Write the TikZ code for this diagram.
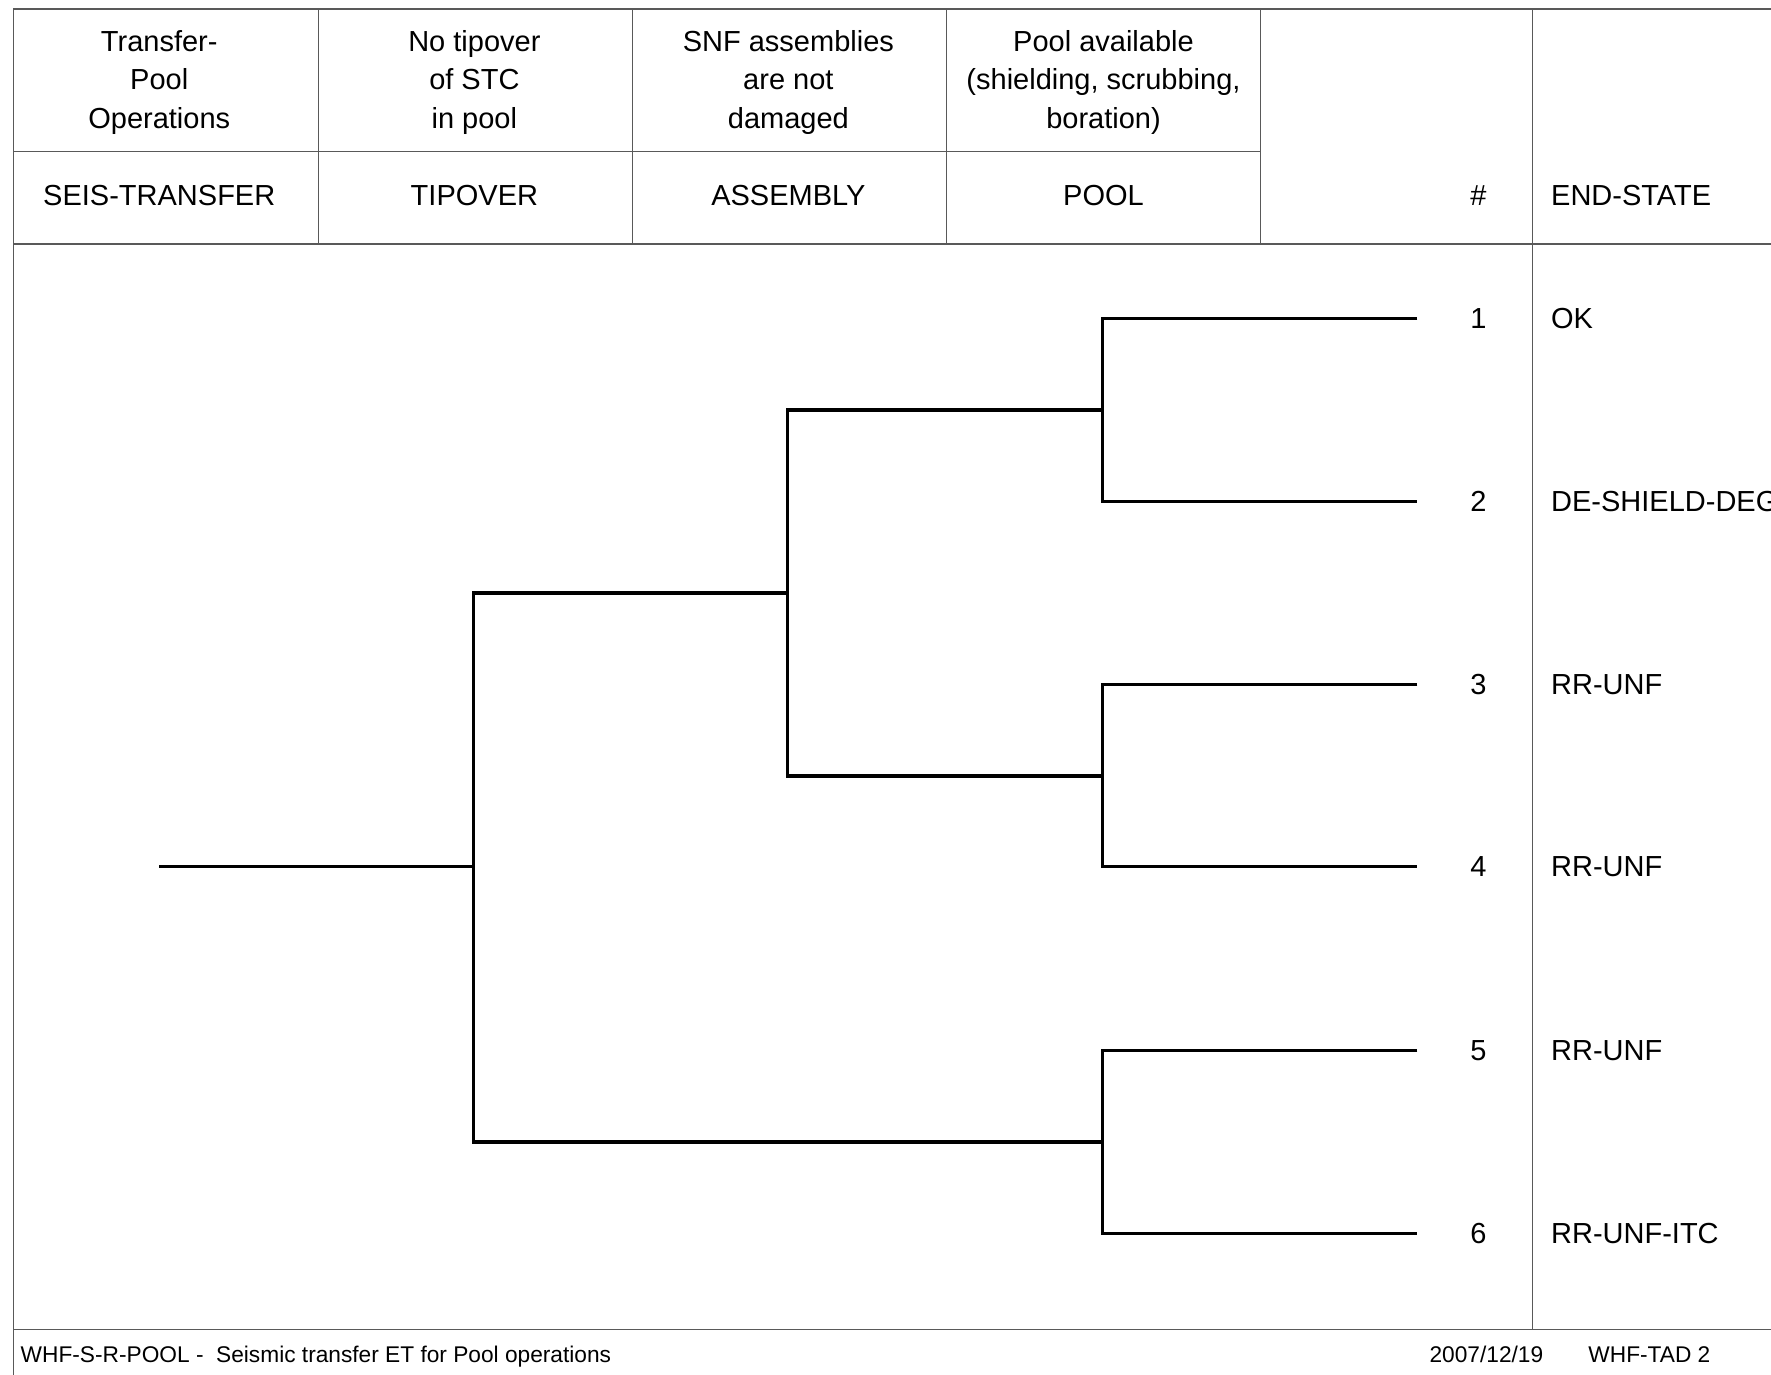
\documentclass[tikz,border=0pt]{standalone}
\usepackage{fontspec}
\setmainfont{Liberation Sans}
\begin{document}
\begin{tikzpicture}[x=0.5647pt, y=-0.5647pt,
    frame/.style={draw=black!65, line width=0.6pt},
    branch/.style={draw=black, line width=1.6pt},
    headtext/.style={font=\fontsize{14.5}{19.2}\selectfont, align=center, inner sep=0pt},
    numtext/.style={font=\fontsize{14.5}{17}\selectfont, inner sep=0pt, anchor=base},
    endtext/.style={font=\fontsize{14.5}{17}\selectfont, inner sep=0pt, anchor=base west},
    foottext/.style={font=\fontsize{11.35}{13.6}\selectfont, inner sep=0pt, anchor=base west}]
    \useasboundingbox (0,0) rectangle (1568,1217);
    \clip (0,0) rectangle (1568,1217);

    % Table frame
    \draw[frame] (12,1217) -- (12,8) -- (1568,8);
    \draw[frame] (12,134) -- (1116,134);
    \draw[frame] (12,216) -- (1568,216);
    \draw[frame] (12,1177) -- (1568,1177);
    \foreach \x in {282,560,838,1116} \draw[frame] (\x,8) -- (\x,216);
    \draw[frame] (1357,8) -- (1357,1177);

    % Column headings
    \node[headtext] (desc1) at (141,73) {Transfer-\\Pool\\Operations};
    \node[headtext] (desc2) at (420,73) {No tipover\\of STC\\in pool};
    \node[headtext] (desc3) at (698,73) {SNF assemblies\\are not\\damaged};
    \node[headtext] (desc4) at (977,73) {Pool available\\(shielding, scrubbing,\\boration)};
    \node[headtext, anchor=base] (top1) at (141,182) {SEIS-TRANSFER};
    \node[headtext, anchor=base] (top2) at (420,182) {TIPOVER};
    \node[headtext, anchor=base] (top3) at (698,182) {ASSEMBLY};
    \node[headtext, anchor=base] (top4) at (977,182) {POOL};
    \node[numtext] (seqhead) at (1309,182) {\#};
    \node[endtext] (statehead) at (1373,182) {END-STATE};

    % Branch points
    \coordinate (init) at (141,767);
    \coordinate (tip) at (419,767);
    \coordinate (asm) at (697,525);
    \coordinate (pool_a) at (976,363);
    \coordinate (pool_b) at (976,687);
    \coordinate (pool_c) at (976,1011);

    % Sequences and end states
    \foreach \i/\y/\lab in {1/282/OK, 2/444/DE-SHIELD-DEG, 3/606/RR-UNF,
                            4/767/RR-UNF, 5/930/RR-UNF, 6/1092/RR-UNF-ITC} {
        \coordinate (end\i) at (1255,\y);
        \node[numtext] (seq\i) at (1309,\y+9) {\i};
        \node[endtext] (state\i) at (1373,\y+9) {\lab};
    }

    % Event tree
    \draw[branch] (init) -- (tip);
    \draw[branch] (asm) -| (tip) |- (pool_c);
    \draw[branch] (pool_a) -| (asm) |- (pool_b);
    \draw[branch] (end1) -| (pool_a) |- (end2);
    \draw[branch] (end3) -| (pool_b) |- (end4);
    \draw[branch] (end5) -| (pool_c) |- (end6);

    % Footer
    \node[foottext] (title) at (18,1206) {WHF-S-R-POOL -~ Seismic transfer ET for Pool operations};
    \node[foottext, anchor=base] (date) at (1316,1206) {2007/12/19};
    \node[foottext] (code) at (1406,1206) {WHF-TAD 2};
\end{tikzpicture}
\end{document}
